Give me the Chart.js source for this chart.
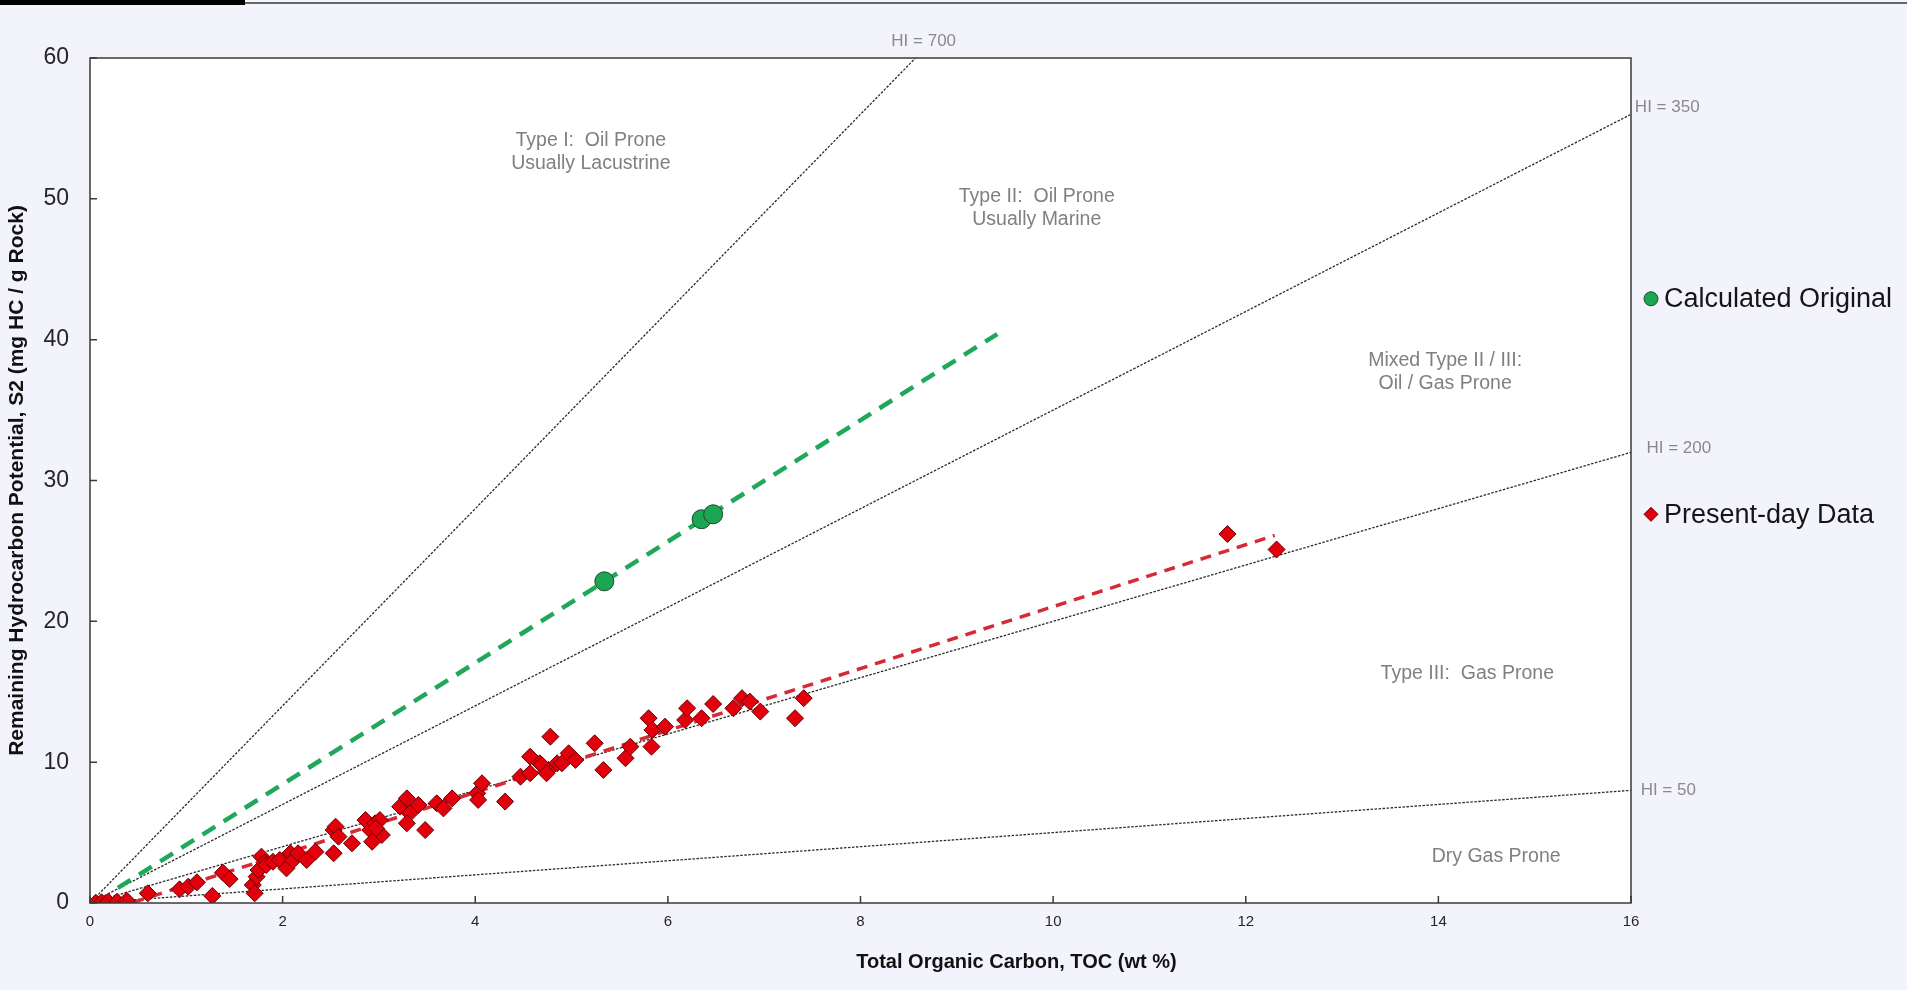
<!DOCTYPE html>
<html>
<head>
  <title>Hydrogen Index Plot</title>
  <script src="https://cdn.jsdelivr.net/npm/chart.js"></script>
  <style>
    body { margin: 0; background: #f3f3fb; overflow: hidden; }
    #hiChart { position: absolute; left: 0; top: 0; }
    #topBar { position: absolute; left: 0; top: 0; width: 245px; height: 5px; background: #000; }
    #topLine { position: absolute; left: 245px; top: 2px; right: 0; height: 2px; background: #666; }
  </style>
</head>
<body>
  <canvas id="hiChart" width="1907" height="990"></canvas>
  <div id="topBar"></div><div id="topLine"></div>

  <script>
    // present-day samples (TOC wt %, S2 mg HC/g rock)
    const presentToc = [0.06, 0.12, 0.19, 0.28, 0.38, 0.60, 0.93, 1.02, 1.11, 1.27,
      1.38, 1.45, 1.69, 1.71, 1.73, 1.75, 1.78, 1.81, 1.83, 1.90,
      1.97, 2.04, 2.08, 2.11, 2.16, 2.25, 2.34, 2.53, 2.53, 2.55,
      2.58, 2.72, 2.86, 2.91, 2.96, 3.01, 3.03, 2.93, 2.97, 3.22,
      3.29, 3.32, 3.29, 3.41, 3.48, 3.60, 3.67, 3.76, 4.02, 4.07,
      4.03, 4.31, 4.47, 4.57, 4.57, 4.67, 4.78, 4.76, 4.85, 4.69,
      4.74, 4.90, 4.97, 5.04, 5.24, 5.33, 5.56, 5.61, 5.80, 5.83,
      5.84, 5.97, 6.18, 6.20, 6.35, 6.47, 6.68, 6.77, 6.85, 6.96,
      7.32, 7.41, 11.81, 12.32];
    const presentS2 = [0.02, 0.05, 0.09, 0.09, 0.17, 0.69, 0.97, 1.16, 1.47, 0.50,
      2.15, 1.70, 1.28, 0.69, 1.87, 2.34, 3.29, 2.86, 2.70, 2.93,
      3.05, 2.46, 3.53, 3.05, 3.53, 3.05, 3.64, 3.53, 5.18, 5.42,
      4.71, 4.24, 5.89, 5.18, 5.66, 5.89, 4.83, 4.35, 5.30, 6.84,
      7.43, 6.37, 5.66, 6.96, 5.18, 7.08, 6.72, 7.43, 7.79, 8.50,
      7.32, 7.20, 8.97, 10.39, 9.21, 9.92, 11.81, 9.45, 9.92, 9.80,
      9.21, 9.92, 10.63, 10.16, 11.34, 9.45, 10.28, 11.10, 13.12, 11.10,
      12.29, 12.52, 13.00, 13.83, 13.12, 14.13, 13.83, 14.54, 14.30, 13.59,
      13.12, 14.54, 26.20, 25.10];

    // calculated original potential
    const originalToc = [5.34, 6.35, 6.47];
    const originalS2 = [22.84, 27.25, 27.60];

    // trend lines (end points)
    const originalTrendToc = [0.29, 9.42];
    const originalTrendS2 = [1.07, 40.4];
    const presentTrendToc = [0.45, 12.3];
    const presentTrendS2 = [0.05, 26.1];

    // hydrogen index guide lines, from origin to plot edge
    const hiValues = [700, 350, 200, 50];
    const hiEndToc = [8.571, 16, 16, 16];
    const hiEndS2 = [60, 56, 32, 8];

    const xTickValues = [0, 2, 4, 6, 8, 10, 12, 14, 16];
    const yTickValues = [0, 10, 20, 30, 40, 50, 60];

    const seriesNames = ['Calculated Original', 'Present-day Data'];
    const xTitle = 'Total Organic Carbon, TOC (wt %)';
    const yTitle = 'Remaining Hydrocarbon Potential, S2 (mg HC / g Rock)';

    // label placement (data units)
    const regionLabels = [
      { lines: ['Type I:  Oil Prone', 'Usually Lacustrine'], x: 5.2, y: 53.3 },
      { lines: ['Type II:  Oil Prone', 'Usually Marine'], x: 9.83, y: 49.35 },
      { lines: ['Mixed Type II / III:', 'Oil / Gas Prone'], x: 14.07, y: 37.7 },
      { lines: ['Type III:  Gas Prone'], x: 14.3, y: 16.3 },
      { lines: ['Dry Gas Prone'], x: 14.6, y: 3.27 }
    ];
    const hiLabelAt = [{ x: 8.32, y: 61.15 }, { x: 16.04, y: 56.5 }, { x: 16.16, y: 32.3 }, { x: 16.1, y: 8.0 }];
    const legendAtS2 = [42.9, 27.6];

    const GREEN = '#1ca651';
    const RED = '#e2000c';
    const FONT = "'Liberation Sans', Arial, sans-serif";
    const NARROW = "'Liberation Sans Narrow', 'Arial Narrow', 'Liberation Sans', Arial, sans-serif";

    function pairs(xs, ys) {
      return xs.map((x, i) => ({ x: x, y: ys[i] }));
    }

    function diamond(ctx, x, y, r) {
      ctx.beginPath();
      ctx.moveTo(x - r, y);
      ctx.lineTo(x, y - r);
      ctx.lineTo(x + r, y);
      ctx.lineTo(x, y + r);
      ctx.closePath();
    }

    const decor = {
      id: 'decor',
      beforeDraw(chart) {
        const { ctx, chartArea: a } = chart;
        ctx.save();
        ctx.fillStyle = '#ffffff';
        ctx.fillRect(a.left, a.top, a.right - a.left, a.bottom - a.top);
        ctx.restore();
      },
      afterDraw(chart) {
        const { ctx, chartArea: a } = chart;
        const xs = chart.scales.x, ys = chart.scales.y;
        ctx.save();

        // frame + inside tick marks
        ctx.strokeStyle = '#3a3a3a';
        ctx.lineWidth = 1.5;
        ctx.strokeRect(a.left, a.top, a.right - a.left, a.bottom - a.top);
        ctx.beginPath();
        xs.ticks.forEach(t => {
          const px = xs.getPixelForValue(t.value);
          ctx.moveTo(px, a.bottom);
          ctx.lineTo(px, a.bottom - 7);
        });
        ys.ticks.forEach(t => {
          const py = ys.getPixelForValue(t.value);
          ctx.moveTo(a.left, py);
          ctx.lineTo(a.left + 7, py);
        });
        ctx.stroke();

        // kerogen type regions
        ctx.fillStyle = '#808080';
        ctx.font = '19.5px ' + FONT;
        ctx.textAlign = 'center';
        ctx.textBaseline = 'middle';
        regionLabels.forEach(l => {
          const px = xs.getPixelForValue(l.x);
          const py = ys.getPixelForValue(l.y) - (l.lines.length - 1) * 11.5;
          l.lines.forEach((s, i) => ctx.fillText(s, px, py + i * 23));
        });

        // HI labels
        ctx.fillStyle = '#8a8a8a';
        ctx.font = '17px ' + FONT;
        ctx.textAlign = 'left';
        hiValues.forEach((hi, i) => {
          ctx.fillText('HI = ' + hi, xs.getPixelForValue(hiLabelAt[i].x), ys.getPixelForValue(hiLabelAt[i].y));
        });

        // legend
        const lx = a.right + 20;
        ctx.lineWidth = 1;
        let ly = ys.getPixelForValue(legendAtS2[0]);
        ctx.beginPath();
        ctx.arc(lx, ly, 7, 0, Math.PI * 2);
        ctx.fillStyle = GREEN;
        ctx.fill();
        ctx.strokeStyle = '#1d4a2c';
        ctx.stroke();
        ctx.fillStyle = '#151515';
        ctx.font = '27px ' + FONT;
        ctx.fillText(seriesNames[0], lx + 13, ly + 1);

        ly = ys.getPixelForValue(legendAtS2[1]);
        diamond(ctx, lx, ly, 7);
        ctx.fillStyle = RED;
        ctx.fill();
        ctx.strokeStyle = '#6a0000';
        ctx.stroke();
        ctx.fillStyle = '#151515';
        ctx.fillText(seriesNames[1], lx + 13, ly + 1);

        // x axis title
        ctx.font = 'bold 20px ' + FONT;
        ctx.textAlign = 'center';
        ctx.fillStyle = '#111';
        ctx.fillText(xTitle, chart.width * 0.533, a.bottom + 59);
        ctx.restore();
      }
    };

    const hiSets = hiValues.map((hi, i) => ({
      label: 'HI = ' + hi,
      type: 'line',
      data: [{ x: 0, y: 0 }, { x: hiEndToc[i], y: hiEndS2[i] }],
      borderColor: '#2b2b2b',
      borderWidth: 1.3,
      borderDash: [2.5, 1.5],
      pointRadius: 0,
      fill: false,
      order: 3
    }));

    new Chart(document.getElementById('hiChart').getContext('2d'), {
      type: 'scatter',
      data: {
        datasets: [
          {
            label: seriesNames[0],
            data: pairs(originalToc, originalS2),
            pointStyle: 'circle',
            pointRadius: 9.5,
            pointHoverRadius: 9.5,
            backgroundColor: GREEN,
            borderColor: '#1d4a2c',
            borderWidth: 1,
            order: 0
          },
          {
            label: seriesNames[1],
            data: pairs(presentToc, presentS2),
            pointStyle: 'rectRot',
            pointRadius: 8.5,
            pointHoverRadius: 8.5,
            backgroundColor: RED,
            borderColor: '#6a0000',
            borderWidth: 1,
            order: 0
          },
          {
            label: 'Original trend',
            type: 'line',
            data: pairs(originalTrendToc, originalTrendS2),
            borderColor: '#1fa85a',
            borderWidth: 4.5,
            borderDash: [15, 10],
            pointRadius: 0,
            fill: false,
            order: 1
          },
          {
            label: 'Present-day trend',
            type: 'line',
            data: pairs(presentTrendToc, presentTrendS2),
            borderColor: '#d62a36',
            borderWidth: 3.5,
            borderDash: [11, 8],
            pointRadius: 0,
            fill: false,
            order: 2
          },
          ...hiSets
        ]
      },
      options: {
        responsive: false,
        animation: false,
        layout: { padding: { top: 58, right: 276, bottom: 0, left: 0 } },
        plugins: {
          legend: { display: false },
          tooltip: { enabled: false }
        },
        scales: {
          x: {
            type: 'linear',
            min: 0,
            max: 16,
            afterBuildTicks: s => { s.ticks = xTickValues.map(v => ({ value: v })); },
            afterFit: s => { s.height = 87; },
            ticks: { padding: 10, color: '#262626', font: { family: NARROW, size: 15 } },
            grid: { display: false, drawTicks: false },
            border: { display: false }
          },
          y: {
            min: 0,
            max: 60,
            afterBuildTicks: s => { s.ticks = yTickValues.map(v => ({ value: v })); },
            afterFit: s => { s.width = 90; },
            ticks: { padding: 21, color: '#262626', font: { family: FONT, size: 23 } },
            grid: { display: false, drawTicks: false },
            border: { display: false },
            title: {
              display: true,
              text: yTitle,
              color: '#111',
              font: { family: FONT, size: 21, weight: 'bold' },
              padding: { top: 5 }
            }
          }
        }
      },
      plugins: [decor]
    });
  </script>
</body>
</html>
